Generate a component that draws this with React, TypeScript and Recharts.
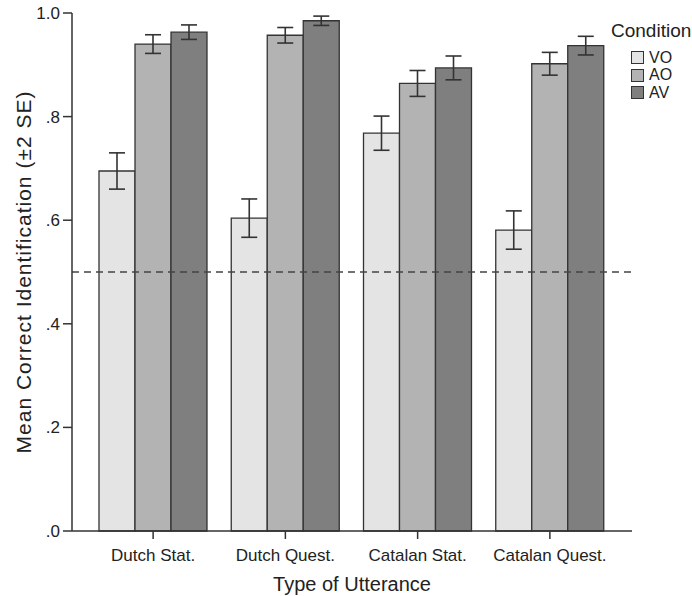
import React from 'react';
import { BarChart, Bar, XAxis, YAxis, ReferenceLine, ErrorBar } from 'recharts';

const categories = ['Dutch Stat.', 'Dutch Quest.', 'Catalan Stat.', 'Catalan Quest.'];
const voValues = [0.695, 0.604, 0.768, 0.581];
const aoValues = [0.94, 0.957, 0.864, 0.902];
const avValues = [0.963, 0.985, 0.894, 0.937];
const voErrors = [0.035, 0.037, 0.033, 0.037];
const aoErrors = [0.018, 0.015, 0.025, 0.022];
const avErrors = [0.014, 0.009, 0.023, 0.018];
const yTicks = [0, 0.2, 0.4, 0.6, 0.8, 1.0];
const chanceLevel = 0.5;

const conditions = [
  { key: 'VO', label: 'VO', fill: '#e4e4e4' },
  { key: 'AO', label: 'AO', fill: '#b3b3b3' },
  { key: 'AV', label: 'AV', fill: '#7f7f7f' },
];

const FONT = '"Liberation Sans", Arial, Helvetica, sans-serif';
const INK = '#333';

const data = categories.map((name, i) => ({
  name,
  VO: voValues[i],
  AO: aoValues[i],
  AV: avValues[i],
  VOerr: voErrors[i],
  AOerr: aoErrors[i],
  AVerr: avErrors[i],
}));

const fmtTick = (v: number) => (v === 1 ? '1.0' : v.toFixed(1).replace(/^0/, ''));

function YTitle() {
  // rotated axis title, centred on the plot height
  const cx = 23;
  const cy = 272;
  return (
    <text
      x={cx}
      y={cy}
      transform={`rotate(-90 ${cx} ${cy})`}
      textAnchor="middle"
      dominantBaseline="central"
      fontFamily={FONT}
      fontSize={21}
      letterSpacing={1}
      fill="#222"
    >
      Mean Correct Identification (±2 SE)
    </text>
  );
}

export default function App() {
  return (
    <div style={{ position: 'absolute', left: 0, top: 0, width: 692, height: 596, background: '#fff', fontFamily: FONT }}>
      <BarChart
        width={692}
        height={596}
        data={data}
        margin={{ top: 13, right: 60, bottom: 0, left: 0 }}
        barGap={0}
        barSize={36}
      >
        <XAxis
          dataKey="name"
          height={65}
          padding={{ left: 15, right: 16 }}
          axisLine={{ stroke: INK, strokeWidth: 1.5 }}
          tickLine={{ stroke: INK, strokeWidth: 1.5 }}
          tickSize={8}
          tickMargin={10}
          tick={{ fill: '#222', fontSize: 17, fontFamily: FONT }}
          label={{ value: 'Type of Utterance', position: 'insideBottom', offset: 5, fill: '#222', fontSize: 20, fontFamily: FONT }}
        />
        <YAxis
          width={72}
          domain={[0, 1]}
          ticks={yTicks}
          tickFormatter={fmtTick}
          axisLine={{ stroke: INK, strokeWidth: 1.5 }}
          tickLine={{ stroke: INK, strokeWidth: 1.5 }}
          tickSize={9}
          tickMargin={3}
          tick={{ fill: '#222', fontSize: 17, fontFamily: FONT }}
          label={<YTitle />}
        />
        {conditions.map((c) => (
          <Bar key={c.key} dataKey={c.key} fill={c.fill} stroke={INK} strokeWidth={1.3} isAnimationActive={false}>
            <ErrorBar dataKey={`${c.key}err`} width={8} stroke={INK} strokeWidth={1.6} direction="y" />
          </Bar>
        ))}
        <ReferenceLine y={chanceLevel} stroke="#444" strokeWidth={1.6} strokeDasharray="7 5" />
      </BarChart>

      <div style={{ position: 'absolute', left: 611, top: 20, color: '#222' }}>
        <div style={{ fontSize: 19, lineHeight: '22px', whiteSpace: 'nowrap' }}>Condition</div>
        <div style={{ marginTop: 7, marginLeft: 20 }}>
          {conditions.map((c) => (
            <div key={c.key} style={{ display: 'flex', alignItems: 'center', height: 17.5 }}>
              <span style={{ width: 11, height: 11, background: c.fill, border: `1.5px solid ${INK}`, display: 'inline-block' }} />
              <span style={{ fontSize: 16, marginLeft: 5, lineHeight: '16px' }}>{c.label}</span>
            </div>
          ))}
        </div>
      </div>
    </div>
  );
}
